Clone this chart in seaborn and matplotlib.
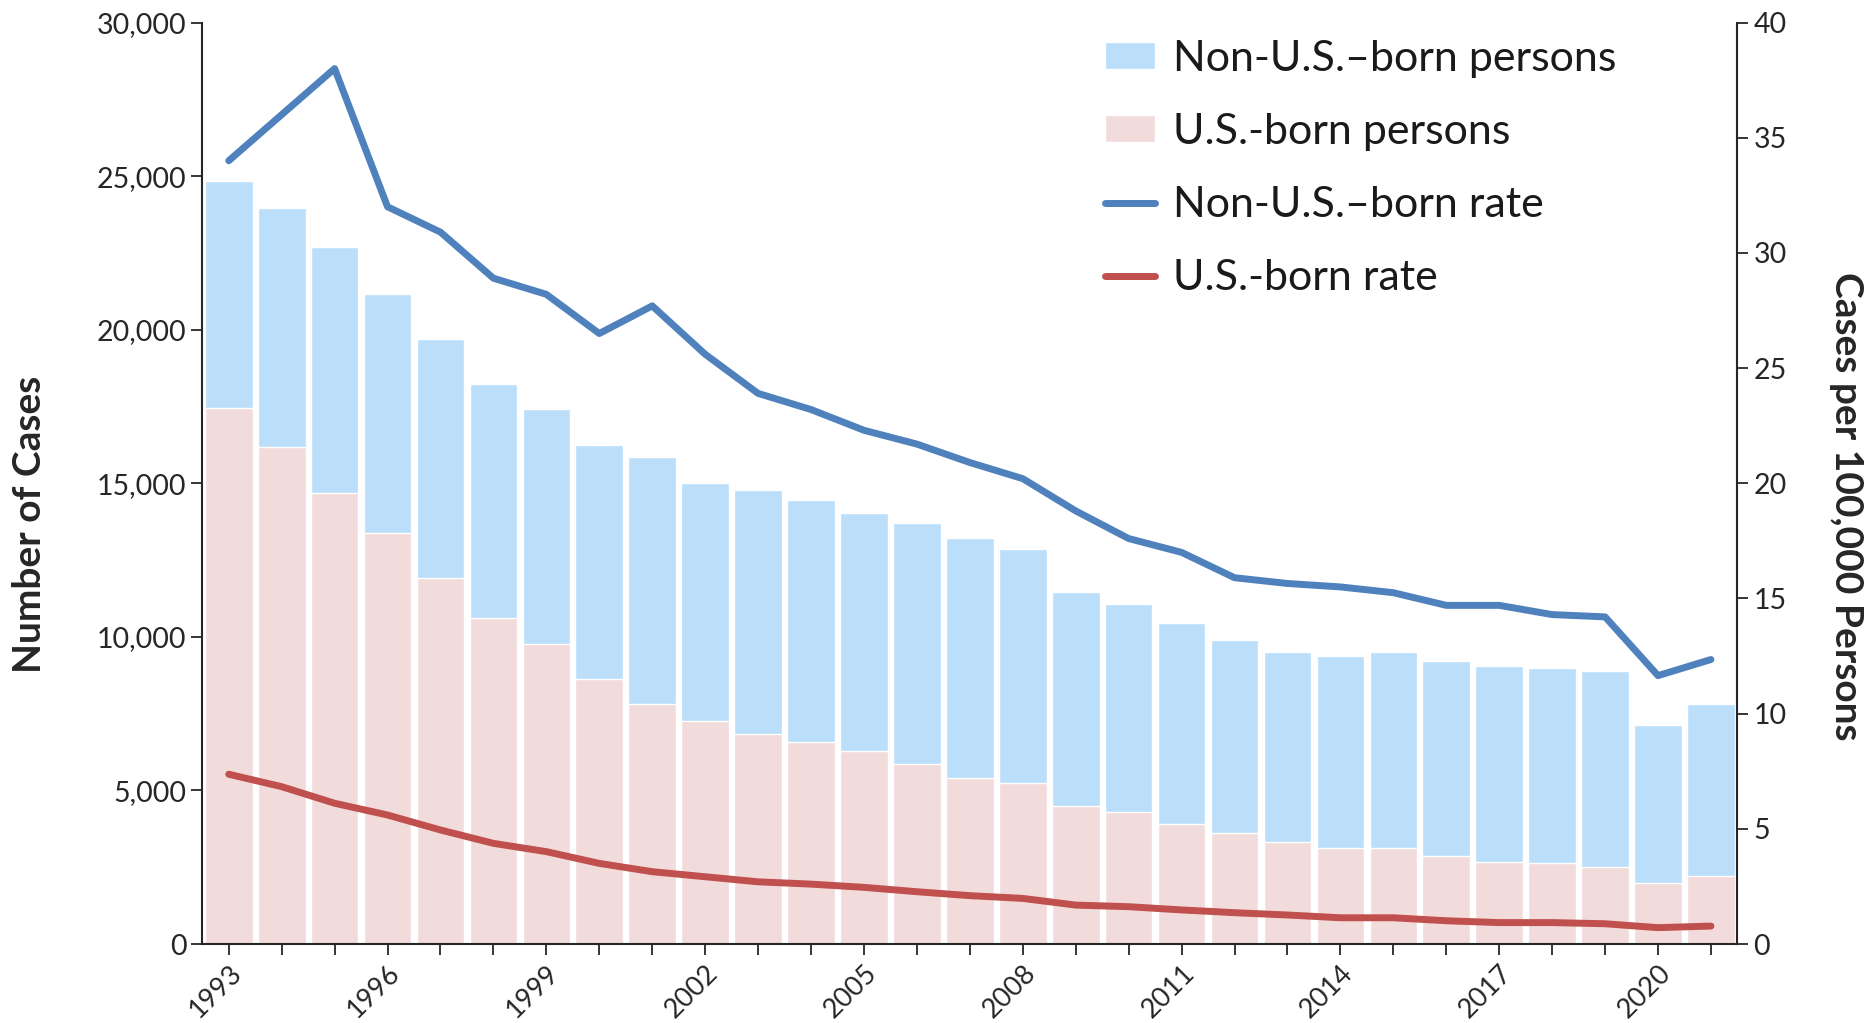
import matplotlib
matplotlib.use("Agg")
import matplotlib.pyplot as plt
import matplotlib.ticker as mticker
import seaborn as sns
import pandas as pd

# Data
years = list(range(1993, 2022))
total_cases = [24850, 23960, 22690, 21150, 19690, 18240, 17410, 16260, 15870, 15000,
               14790, 14470, 14020, 13700, 13220, 12870, 11470, 11060, 10460, 9910,
               9520, 9370, 9520, 9220, 9050, 8980, 8880, 7130, 7830]
us_born_cases = [17440, 16190, 14670, 13390, 11920, 10600, 9780, 8630, 7830, 7260,
                 6830, 6580, 6270, 5850, 5420, 5230, 4480, 4300, 3920, 3600,
                 3310, 3110, 3120, 2880, 2660, 2650, 2520, 2000, 2230]
non_us_rate = [34.0, 36.0, 38.0, 32.0, 30.9, 28.9, 28.2, 26.5, 27.7, 25.6,
               23.9, 23.2, 22.3, 21.7, 20.9, 20.2, 18.8, 17.6, 17.0, 15.9,
               15.65, 15.5, 15.25, 14.7, 14.7, 14.3, 14.2, 11.65, 12.35]
us_rate = [7.37, 6.83, 6.11, 5.60, 4.95, 4.37, 4.01, 3.50, 3.14, 2.92,
           2.70, 2.60, 2.46, 2.27, 2.10, 1.98, 1.69, 1.62, 1.48, 1.36,
           1.26, 1.14, 1.14, 1.01, 0.93, 0.93, 0.88, 0.71, 0.78]

df = pd.DataFrame({"year": years, "total": total_cases, "us": us_born_cases,
                   "non_us_rate": non_us_rate, "us_rate": us_rate})

sns.set_style("ticks")
plt.rcParams["font.family"] = ["Lato", "DejaVu Sans"]
plt.rcParams["axes.linewidth"] = 1.5
plt.rcParams["xtick.major.width"] = 1.3
plt.rcParams["ytick.major.width"] = 1.3

axis_color = "#262626"

fig = plt.figure(figsize=(18.66, 10.23), dpi=100)
ax = fig.add_axes([0.1084, 0.0772, 0.9311 - 0.1084, 0.978 - 0.0772])

# Stacked bars: total (non-U.S.-born on top), U.S.-born drawn over the bottom
sns.barplot(data=df, x="year", y="total", color="#BBDEFB", saturation=1,
            width=0.9, native_scale=True, label="Non-U.S.\u2013born persons", ax=ax)
sns.barplot(data=df, x="year", y="us", color="#F2DCDB", saturation=1,
            width=0.9, native_scale=True, label="U.S.-born persons", ax=ax)
if ax.get_legend():
    ax.get_legend().remove()

ax.set_xlim(1992.5, 2021.5)
ax.set_ylim(0, 30000)
ax.yaxis.set_major_locator(mticker.MultipleLocator(5000))
ax.yaxis.set_major_formatter(mticker.StrMethodFormatter("{x:,.0f}"))
ax.set_xticks(years)
ax.set_xticklabels([str(y) if (y - 1993) % 3 == 0 else "" for y in years],
                   rotation=45, ha="right", rotation_mode="anchor")
ax.tick_params(axis="both", direction="out", length=8, colors=axis_color)
ax.tick_params(axis="y", labelsize=20.5)
ax.tick_params(axis="x", labelsize=19.5, pad=4)
ax.set_xlabel("")
ax.set_ylabel("Number of Cases", fontsize=28, fontweight="bold", color=axis_color,
              va="center")
ax.yaxis.set_label_coords(-0.1127, 0.455)
for side in ["top", "right"]:
    ax.spines[side].set_visible(False)
for side in ["left", "bottom"]:
    ax.spines[side].set_color(axis_color)

# Rates on the right axis
ax2 = ax.twinx()
sns.lineplot(data=df, x="year", y="non_us_rate", color="#4F81BD", linewidth=5,
             solid_capstyle="round", label="Non-U.S.\u2013born rate", ax=ax2)
sns.lineplot(data=df, x="year", y="us_rate", color="#C0504D", linewidth=5,
             solid_capstyle="round", label="U.S.-born rate", ax=ax2)
ax2.set_ylim(0, 40)
ax2.yaxis.set_major_locator(mticker.MultipleLocator(5))
ax2.tick_params(axis="y", direction="out", length=8, labelsize=20.5, colors=axis_color)
ax2.set_ylabel("Cases per 100,000 Persons", fontsize=28, fontweight="bold",
               rotation=270, color=axis_color, va="center")
ax2.yaxis.set_label_coords(1.071, 0.475)
ax2.spines["top"].set_visible(False)
ax2.spines["left"].set_visible(False)
ax2.spines["bottom"].set_visible(False)
ax2.spines["right"].set_color(axis_color)

h1, l1 = ax.get_legend_handles_labels()
h2, l2 = ax2.get_legend_handles_labels()
ax2.legend(h1 + h2, l1 + l2, loc="upper left", bbox_to_anchor=(0.588, 0.9815),
           frameon=False, fontsize=31, handlelength=1.16, handleheight=0.6,
           handletextpad=0.42, labelspacing=0.82, borderpad=0, borderaxespad=0,
           labelcolor="#1a1a1a")

fig.savefig("out.png", dpi=100)
